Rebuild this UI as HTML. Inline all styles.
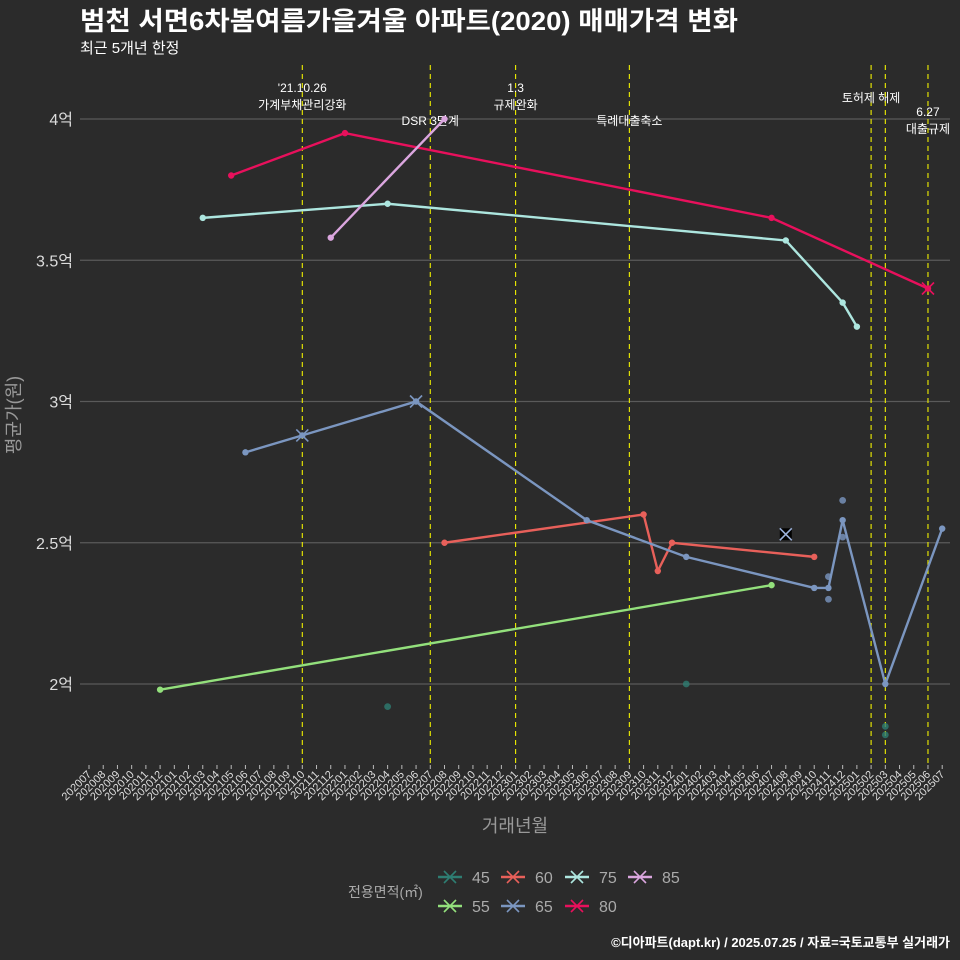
<!DOCTYPE html>
<html><head><meta charset="utf-8"><style>
body{margin:0;background:#2b2b2b;}
svg{display:block;font-family:"Liberation Sans","Noto Sans CJK KR",sans-serif;}
</style></head><body>
<svg id="c" width="960" height="960" xmlns="http://www.w3.org/2000/svg">
<rect width="960" height="960" fill="#2b2b2b"/>
<text x="80" y="30" font-size="26" font-weight="bold" fill="#ffffff" textLength="658" lengthAdjust="spacingAndGlyphs">범천 서면6차봄여름가을겨울 아파트(2020) 매매가격 변화</text>
<text x="80" y="53" font-size="15" fill="#ffffff">최근 5개년 한정</text>
<text x="20" y="415" font-size="18" fill="#999" transform="rotate(-90 20 415)" text-anchor="middle">평균가(원)</text>
<text x="515" y="832" font-size="18" fill="#999" text-anchor="middle">거래년월</text>
<text x="950" y="947" font-size="13" font-weight="bold" fill="#fff" text-anchor="end">©디아파트(dapt.kr) / 2025.07.25 / 자료=국토교통부 실거래가</text>
<g id="grid"></g><g id="xt"></g><g id="ev"></g><g id="lines"></g><g id="leg"></g>
</svg>
<script>
const yTicks=[2,2.5,3,3.5,4];
const yTickLabels=['2억','2.5억','3억','3.5억','4억'];
const months=[];for(let y=2020,m=7;!(y===2025&&m===8);){months.push(''+y+String(m).padStart(2,'0'));m++;if(m>12){m=1;y++;}}
const eventMonths=['202110','202207','202301','202309','202502','202503','202506'];
const eventLabels=[["'21.10.26","가계부채관리강화"],["DSR 3단계"],["1.3","규제완화"],["특례대출축소"],["토허제 해제"],[],["6.27","대출규제"]];
const eventLabelY=[92,125,92,125,102,0,116];
const seriesNames=['45','55','60','65','75','80','85'];
const seriesColors=['#2e7d72','#93e07c','#e8605a','#7b96c0','#ade6df','#e8105c','#dba6df'];
const line55=[['202012',1.98],['202407',2.35]];
const line60=[['202208',2.5],['202310',2.6],['202311',2.4],['202312',2.5],['202410',2.45]];
const line65=[['202106',2.82],['202110',2.88],['202206',3.0],['202306',2.58],['202401',2.45],['202410',2.34],['202411',2.34],['202412',2.58],['202503',2.0],['202507',2.55]];
const line75=[['202103',3.65],['202204',3.7],['202408',3.57],['202412',3.35],['202501',3.265]];
const line80=[['202105',3.8],['202201',3.95],['202407',3.65],['202506',3.4]];
const line85=[['202112',3.58],['202208',4.0]];
const pts45=[['202204',1.92],['202401',2.0],['202503',1.85],['202503',1.82]];
const pts65extra=[['202411',2.38],['202411',2.30],['202412',2.65],['202412',2.52]];
const xMarks65=[['202110',2.88],['202206',3.0]];
const xMark80=[['202506',3.4]];
const blackX=[['202408',2.53]];

const NS='http://www.w3.org/2000/svg';
const X=m=>89+14.22*months.indexOf(m);
const Y=v=>684-(v-2)*282.5;
function mk(t,a,p){const e=document.createElementNS(NS,t);for(const k in a)e.setAttribute(k,a[k]);p.appendChild(e);return e;}
const grid=document.getElementById('grid');
yTicks.forEach((v,i)=>{
 const l=mk('line',{x1:80,x2:950,y1:Y(v),y2:Y(v),stroke:'#5a5a5a','stroke-width':1.2},grid);
 
 
 const t=mk('text',{x:73,y:Y(v)+6,'font-size':16,fill:'#ddd','text-anchor':'end'},grid);t.textContent=yTickLabels[i];
 
 
});
const xt=document.getElementById('xt');
months.forEach(m=>{
 const x=X(m);
 mk('line',{x1:x,x2:x,y1:765,y2:769,stroke:'#bbb'},xt);
 const t=mk('text',{x:x+3,y:775,'font-size':11,fill:'#ddd','text-anchor':'end',transform:`rotate(-45 ${x+3} 775)`},xt);t.textContent=m;
 
 
});
const ev=document.getElementById('ev');
eventMonths.forEach((m,i)=>{
 const x=X(m);
 const l=mk('line',{x1:x,x2:x,y1:65,y2:765,stroke:'#f0f000','stroke-width':1.1,'stroke-dasharray':'5,4'},ev);
 
 
 eventLabels[i].forEach((s,j)=>{
  const t=mk('text',{x:x,y:eventLabelY[i]+j*17,'font-size':12,fill:'#fff','text-anchor':'middle'},ev);t.textContent=s;
  
  
 });
});
const G=document.getElementById('lines');
function drawLine(d,c,name){
 const p=mk('polyline',{points:d.map(q=>X(q[0])+','+Y(q[1])).join(' '),fill:'none',stroke:c,'stroke-width':2.4},G);
 
 
 d.forEach(q=>{const c2=mk('circle',{cx:X(q[0]),cy:Y(q[1]),r:3.2,fill:c},G);
  
  });
}
function drawPts(d,c,name){d.forEach(q=>{const e=mk('circle',{cx:X(q[0]),cy:Y(q[1]),r:3.4,fill:c,opacity:0.8},G);
 
 });}
function drawX(d,c,name,s){d.forEach(q=>{const x=X(q[0]),y=Y(q[1]);
 const e=mk('path',{d:`M${x-s},${y-s}L${x+s},${y+s}M${x-s},${y+s}L${x+s},${y-s}`,stroke:c,'stroke-width':1.6},G);
 
 });}
drawPts(pts45,seriesColors[0],'point-45');
drawLine(line55,seriesColors[1],'line-55');
drawLine(line60,seriesColors[2],'line-60');
drawLine(line65,seriesColors[3],'line-65');
drawPts(pts65extra,seriesColors[3],'point-65');
drawLine(line75,seriesColors[4],'line-75');
drawLine(line80,seriesColors[5],'line-80');
drawLine(line85,seriesColors[6],'line-85');
drawX(xMarks65,seriesColors[3],'marker-65',6);
drawX(xMark80,seriesColors[5],'marker-80',6);
blackX.forEach(q=>{const x=X(q[0]),y=Y(q[1]);const r=mk('rect',{x:x-6,y:y-6,width:12,height:12,fill:'#000'},G);
 
 });
drawX(blackX,'#9ab0d8','marker-latest',6);
const L=document.getElementById('leg');
const t0=mk('text',{x:348,y:897,'font-size':14,fill:'#aaa'},L);t0.textContent='전용면적(㎡)';


const legPos=[[450,877],[450,906],[513,877],[513,906],[577,877],[577,906],[640,877]];
seriesNames.forEach((n,i)=>{
 const [x,y]=legPos[i];const g=mk('g',{},L);
 
 
 const c=seriesColors[i];
 mk('line',{x1:x-12,x2:x+12,y1:y,y2:y,stroke:c,'stroke-width':2.4},g);
 mk('path',{d:`M${x-6},${y-6}L${x+6},${y+6}M${x-6},${y+6}L${x+6},${y-6}`,stroke:c,'stroke-width':1.6},g);
 const t=mk('text',{x:x+22,y:y+6,'font-size':16,fill:'#aaa'},g);t.textContent=n;
});
</script>
</body></html>
